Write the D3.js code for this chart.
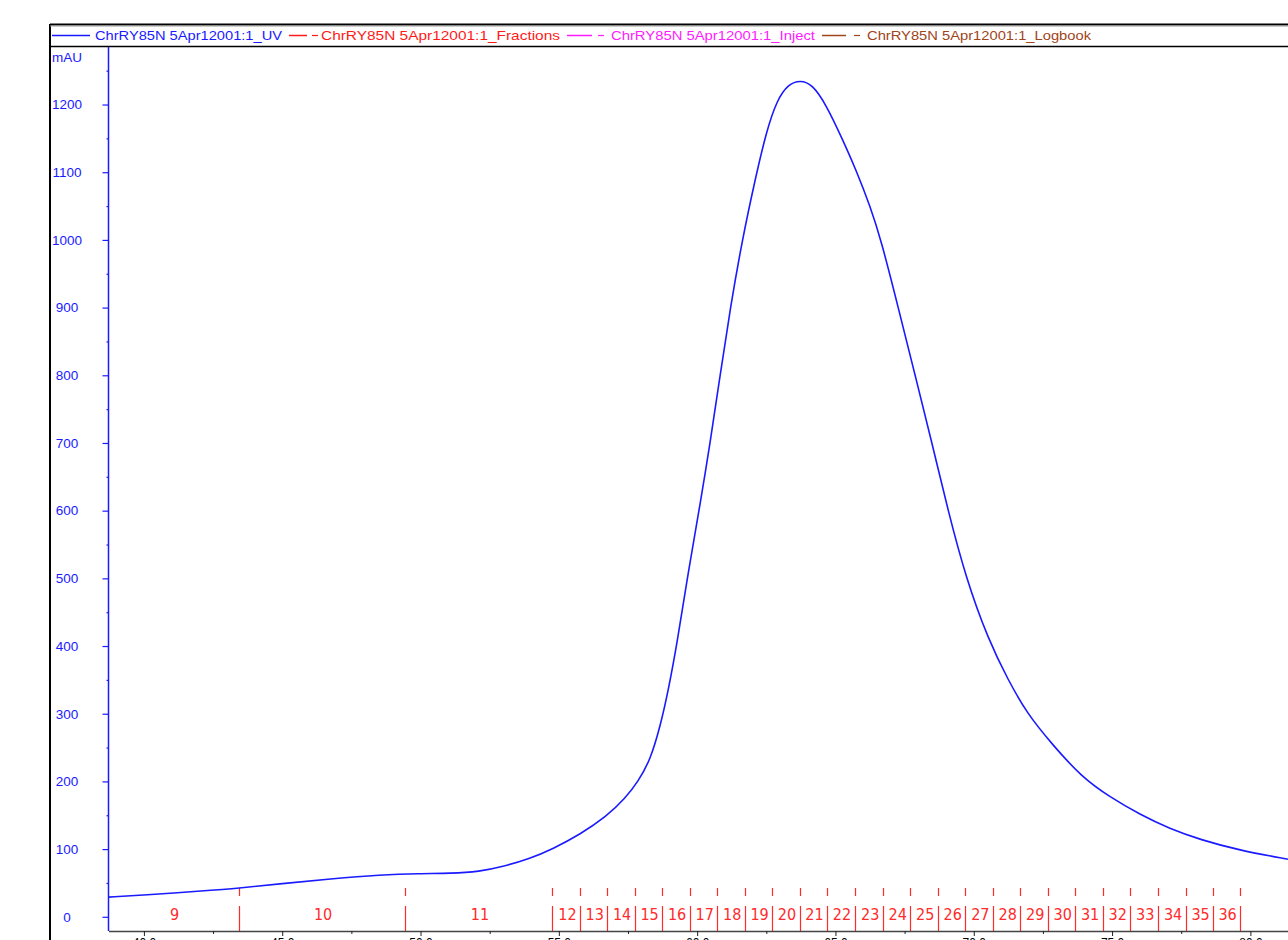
<!DOCTYPE html>
<html>
<head>
<meta charset="utf-8">
<script src="https://cdn.jsdelivr.net/npm/d3@7"></script>
<style>
  html, body { margin: 0; padding: 0; background: #fff; overflow: hidden; }
  svg { display: block; font-family: "Liberation Sans", Arial, sans-serif; }
</style>
</head>
<body>
<div id="chart"></div>
<script>
// UV trace (ml, mAU)
const volume = [38.72, 40.00, 42.05, 43.42, 44.97, 46.74, 48.55, 49.99, 51.08, 52.16, 52.88, 53.96,
  54.77, 55.78, 56.72, 57.40, 57.87, 58.31, 58.67, 58.96, 59.28, 59.68, 60.11, 60.47, 60.83, 61.20,
  61.63, 62.10, 62.50, 62.89, 63.29, 63.73, 64.16, 64.66, 65.24, 65.78, 66.25, 66.65, 67.27, 67.88,
  68.49, 69.07, 69.72, 70.52, 71.24, 71.93, 72.83, 73.91, 74.92, 76.01, 77.09, 78.18, 79.62, 81.36];
const uv = [29, 32, 38, 42, 49, 56, 62, 64, 64, 67, 73, 86,
  100, 122, 148, 175, 200, 232, 282, 335, 405, 510, 610, 700, 800, 900,
  1000, 1090, 1160, 1207, 1230, 1236, 1230, 1200, 1150, 1100, 1050, 1000, 900, 800,
  700, 600, 500, 410, 350, 300, 255, 206, 177, 151, 130, 114, 98, 85];

// fraction boundaries (ml) and names
const fracStart = [38.60, 43.43, 49.45, 54.77, 55.78, 56.74, 57.76, 58.73, 59.75, 60.72, 61.74, 62.70,
  63.72, 64.69, 65.71, 66.73, 67.70, 68.72, 69.69, 70.71, 71.67, 72.70, 73.66, 74.68, 75.65, 76.67,
  77.67, 78.66];
const fracEnd = 79.62;
const fracNames = ["9", "10", "11", "12", "13", "14", "15", "16", "17", "18", "19", "20", "21", "22",
  "23", "24", "25", "26", "27", "28", "29", "30", "31", "32", "33", "34", "35", "36"];

const yTicks = [0, 100, 200, 300, 400, 500, 600, 700, 800, 900, 1000, 1100, 1200];
const yMinor = [50, 150, 250, 350, 450, 550, 650, 750, 850, 950, 1050, 1150, 1250];
const xTicks = [40, 45, 50, 55, 60, 65, 70, 75, 80];
const xMinor = [42.5, 47.5, 52.5, 57.5, 62.5, 67.5, 72.5, 77.5];

const legendNames = ["ChrRY85N 5Apr12001:1_UV", "ChrRY85N 5Apr12001:1_Fractions",
  "ChrRY85N 5Apr12001:1_Inject", "ChrRY85N 5Apr12001:1_Logbook"];
const legendColors = ["#1a1aff", "#ff1a1a", "#ff1aff", "#a0441a"];

const W = 1288, H = 940;
const plot = { left: 108.5, right: 1288, top: 47, bottom: 931 };

const svg = d3.select("#chart").append("svg").attr("width", W).attr("height", H);

const x = d3.scaleLinear().domain([38.72, 81.36]).range([plot.left, plot.right]);
const y = d3.scaleLinear().domain([-21, 1285]).range([plot.bottom, plot.top]);

svg.append("clipPath").attr("id", "plot-clip")
  .append("rect").attr("x", plot.left).attr("y", plot.top)
  .attr("width", plot.right - plot.left).attr("height", plot.bottom - plot.top);

// frame + legend strip
svg.append("line").attr("x1", 50).attr("x2", 50).attr("y1", 24).attr("y2", H)
  .attr("stroke", "#000").attr("stroke-width", 2);
svg.append("line").attr("x1", 50).attr("x2", W).attr("y1", 24.5).attr("y2", 24.5)
  .attr("stroke", "#000").attr("stroke-width", 2);
svg.append("line").attr("x1", 50).attr("x2", W).attr("y1", 26).attr("y2", 26)
  .attr("stroke", "#999").attr("stroke-width", 1);
svg.append("line").attr("x1", 50).attr("x2", W).attr("y1", 46.5).attr("y2", 46.5)
  .attr("stroke", "#000").attr("stroke-width", 1.5);

// legend layout: line start/end, dash x, text x, text width
const legLayout = [
  { l0: 52, l1: 90, dash: null, tx: 95, tw: 187 },
  { l0: 289, l1: 307, dash: 315, tx: 321, tw: 239 },
  { l0: 567, l1: 592, dash: 601, tx: 611, tw: 204 },
  { l0: 822, l1: 846, dash: 857, tx: 867, tw: 224 },
];
const legItems = legendNames.map((name, i) => ({ name, color: legendColors[i], ...legLayout[i] }));
const leg = svg.append("g").selectAll("g").data(legItems).join("g");
leg.append("line")
  .attr("x1", d => d.l0).attr("x2", d => d.l1)
  .attr("y1", 35.5).attr("y2", 35.5)
  .attr("stroke", d => d.color).attr("stroke-width", 1.5);
leg.filter(d => d.dash !== null).append("line")
  .attr("x1", d => d.dash - 3).attr("x2", d => d.dash + 3)
  .attr("y1", 35.5).attr("y2", 35.5)
  .attr("stroke", d => d.color).attr("stroke-width", 1.2);
leg.append("text")
  .attr("x", d => d.tx).attr("y", 40)
  .attr("textLength", d => d.tw).attr("lengthAdjust", "spacingAndGlyphs")
  .attr("font-size", 13).attr("fill", d => d.color)
  .text(d => d.name);

// y axis
const yAxisG = svg.append("g").attr("transform", `translate(${plot.left},0)`)
  .call(d3.axisLeft(y).tickValues(yTicks).tickSize(6).tickSizeOuter(0).tickFormat(d3.format("d")));
yAxisG.select(".domain").remove();
yAxisG.selectAll(".tick line").attr("stroke", "#1a1aff").attr("stroke-width", 1.2);
yAxisG.selectAll(".tick text")
  .attr("x", 67 - plot.left).attr("text-anchor", "middle")
  .attr("font-size", 13.5).attr("font-family", "Liberation Sans, Arial, sans-serif")
  .attr("fill", "#1a1aff");
const yMinorG = svg.append("g").attr("transform", `translate(${plot.left},0)`)
  .call(d3.axisLeft(y).tickValues(yMinor).tickSize(2).tickFormat(""));
yMinorG.select(".domain").remove();
yMinorG.selectAll(".tick line").attr("stroke", "#1a1aff").attr("stroke-width", 1.2);
svg.append("line").attr("x1", plot.left).attr("x2", plot.left).attr("y1", plot.top).attr("y2", plot.bottom)
  .attr("stroke", "#1a1aff").attr("stroke-width", 1.5);
svg.append("text").attr("x", 52).attr("y", 62).attr("font-size", 13.5).attr("fill", "#1a1aff").text("mAU");

// fraction marks
const fracG = svg.append("g").attr("clip-path", "url(#plot-clip)");
const bounds = fracStart.slice(1).concat([fracEnd]);
fracG.selectAll("line.fl").data(bounds).join("line").attr("class", "fl")
  .attr("x1", d => Math.round(x(d)) + 0.5).attr("x2", d => Math.round(x(d)) + 0.5)
  .attr("y1", 906).attr("y2", plot.bottom)
  .attr("stroke", "#ff2a2a").attr("stroke-width", 1.2);
fracG.selectAll("line.fd").data(bounds).join("line").attr("class", "fd")
  .attr("x1", d => Math.round(x(d)) + 0.5).attr("x2", d => Math.round(x(d)) + 0.5)
  .attr("y1", 888).attr("y2", 896)
  .attr("stroke", "#ff2a2a").attr("stroke-width", 1.2);
fracG.selectAll("text").data(fracNames).join("text")
  .attr("x", (d, i) => (x(Math.max(fracStart[i], x.domain()[0])) + x(bounds[i])) / 2 + 1)
  .attr("y", 920)
  .attr("text-anchor", "middle")
  .attr("font-size", 16)
  .attr("font-family", "'Liberation Sans Narrow', 'DejaVu Sans Condensed', 'Liberation Sans', sans-serif")
  .attr("fill", "#ff2a2a")
  .text(d => d);

// x axis (labels mostly below the window, as in the source screenshot)
const xAxisG = svg.append("g").attr("transform", `translate(0,${plot.bottom})`)
  .call(d3.axisBottom(x).tickValues(xTicks).tickSize(5).tickSizeOuter(0).tickFormat(d3.format(".1f")));
xAxisG.select(".domain").attr("stroke", "#444").attr("stroke-width", 1.5);
xAxisG.selectAll(".tick line").attr("stroke", "#222");
xAxisG.selectAll(".tick text").attr("y", 16).attr("dy", 0)
  .attr("font-size", 12).attr("font-family", "Liberation Sans, Arial, sans-serif").attr("fill", "#000");
const xMinorG = svg.append("g").attr("transform", `translate(0,${plot.bottom})`)
  .call(d3.axisBottom(x).tickValues(xMinor).tickSize(3).tickFormat(""));
xMinorG.select(".domain").remove();
xMinorG.selectAll(".tick line").attr("stroke", "#222");

// UV curve
const line = d3.line().x((d, i) => x(volume[i])).y(d => y(d)).curve(d3.curveBasis);
svg.append("path").datum(uv)
  .attr("clip-path", "url(#plot-clip)")
  .attr("fill", "none").attr("stroke", "#1a1aff").attr("stroke-width", 1.6)
  .attr("d", line);
</script>
</body>
</html>
